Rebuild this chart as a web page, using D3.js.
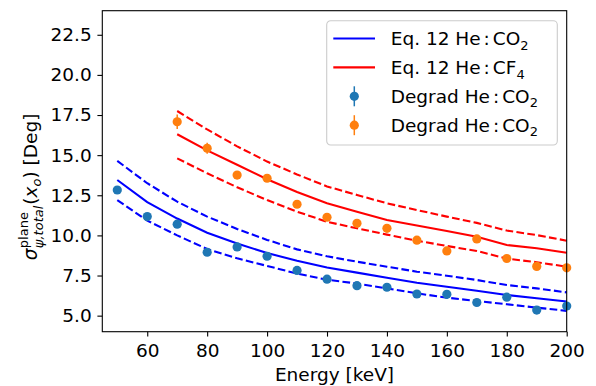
<!DOCTYPE html>
<html>
<head>
<meta charset="utf-8">
<script src="https://cdn.jsdelivr.net/npm/d3@7/dist/d3.min.js"></script>
<style>
  body { margin: 0; background: #fff; }
  svg { display: block; font-family: "DejaVu Sans", sans-serif; }
</style>
</head>
<body>
<div id="chart"></div>
<script>
// Energies (keV) for each gas
var energyCO2 = [50, 60, 70, 80, 90, 100, 110, 120, 130, 140, 150, 160, 170, 180, 190, 200];
var energyCF4 = [70, 80, 90, 100, 110, 120, 130, 140, 150, 160, 170, 180, 190, 200];

// Eq. 12 He:CO2 curve and its band
var eqCO2 = [13.45, 12.07, 11.05, 10.17, 9.5, 8.9, 8.42, 8.0, 7.68, 7.36, 7.05, 6.8, 6.55, 6.29, 6.08, 5.88];
var eqCO2Upper = [14.64, 13.25, 12.1, 11.17, 10.4, 9.72, 9.13, 8.7, 8.36, 8.05, 7.74, 7.49, 7.22, 6.91, 6.7, 6.45];
var eqCO2Lower = [12.2, 10.92, 10.0, 9.15, 8.57, 8.1, 7.62, 7.24, 7.0, 6.7, 6.39, 6.12, 5.91, 5.71, 5.5, 5.3];

// Eq. 12 He:CF4 curve and its band
var eqCF4 = [16.3, 15.3, 14.4, 13.5, 12.7, 12.0, 11.48, 10.96, 10.62, 10.27, 9.92, 9.4, 9.2, 8.92];
var eqCF4Upper = [17.75, 16.6, 15.55, 14.6, 13.8, 13.05, 12.52, 12.0, 11.58, 11.17, 10.78, 10.3, 10.02, 9.67];
var eqCF4Lower = [14.8, 13.87, 13.0, 12.2, 11.48, 10.85, 10.44, 10.05, 9.67, 9.34, 9.03, 8.55, 8.33, 8.05];

// Degrad simulation points
var degradCO2 = [12.83, 11.17, 10.7, 8.95, 9.28, 8.7, 7.82, 7.27, 6.87, 6.77, 6.35, 6.33, 5.82, 6.15, 5.35, 5.6];
var degradCO2Err = [0.15, 0.15, 0.15, 0.12, 0.12, 0.12, 0.12, 0.1, 0.1, 0.1, 0.1, 0.1, 0.1, 0.1, 0.1, 0.1];
var degradCF4 = [17.08, 15.43, 13.76, 13.56, 11.94, 11.13, 10.75, 10.44, 9.7, 9.03, 9.78, 8.56, 8.07, 7.98];
var degradCF4Err = [0.45, 0.35, 0.25, 0.2, 0.2, 0.15, 0.15, 0.15, 0.15, 0.12, 0.12, 0.12, 0.12, 0.12];

// Tick values
var xTicks = [60, 80, 100, 120, 140, 160, 180, 200];
var yTicks = [5, 7.5, 10, 12.5, 15, 17.5, 20, 22.5];

// Legend text
var legendPrefixes = ["Eq. 12 He", "Eq. 12 He", "Degrad He", "Degrad He"];
var legendGases = ["CO", "CF", "CO", "CO"];
var legendSubs = ["2", "4", "2", "2"];

var svgWidth = 596;
var svgHeight = 386;

var margin = { top: 10.7, right: 29.3, bottom: 54.3, left: 102.3 };
var chartWidth = svgWidth - margin.left - margin.right;
var chartHeight = svgHeight - margin.top - margin.bottom;

var fontSize = 18.5;
var smallSize = 13;

var svg = d3.select("#chart")
  .append("svg")
  .attr("width", svgWidth)
  .attr("height", svgHeight);

var chartGroup = svg.append("g")
  .attr("transform", `translate(${margin.left}, ${margin.top})`);

var xScale = d3.scaleLinear().domain([45, 200]).range([0, chartWidth]);
var yScale = d3.scaleLinear().domain([4, 24]).range([chartHeight, 0]);

// Axes
var xAxis = chartGroup.append("g")
  .attr("transform", `translate(0, ${chartHeight})`)
  .call(d3.axisBottom(xScale).tickValues(xTicks).tickSize(4.9).tickPadding(7).tickFormat(d3.format("d")));

var yAxis = chartGroup.append("g")
  .call(d3.axisLeft(yScale).tickValues(yTicks).tickSize(4.9).tickPadding(5.7).tickFormat(d3.format(".1f")));

[xAxis, yAxis].forEach(function(ax) {
  ax.select(".domain").remove();
  ax.selectAll(".tick line").attr("stroke", "#000").attr("stroke-width", 1.1);
  ax.selectAll(".tick text")
    .attr("fill", "#000")
    .style("font-family", "DejaVu Sans")
    .style("font-size", fontSize + "px");
});

// Curves
var line = d3.line()
  .x(d => xScale(d[0]))
  .y(d => yScale(d[1]));

function drawCurve(xs, ys, color, dashed) {
  chartGroup.append("path")
    .datum(d3.zip(xs, ys))
    .attr("fill", "none")
    .attr("stroke", color)
    .attr("stroke-width", 2.1)
    .attr("stroke-dasharray", dashed ? "7.7,3.3" : null)
    .attr("d", line);
}

drawCurve(energyCO2, eqCO2, "#0000ff", false);
drawCurve(energyCO2, eqCO2Upper, "#0000ff", true);
drawCurve(energyCO2, eqCO2Lower, "#0000ff", true);
drawCurve(energyCF4, eqCF4, "#ff0000", false);
drawCurve(energyCF4, eqCF4Upper, "#ff0000", true);
drawCurve(energyCF4, eqCF4Lower, "#ff0000", true);

// Points with error bars
function drawPoints(xs, ys, errs, color) {
  var data = d3.zip(xs, ys, errs);
  var g = chartGroup.append("g");
  g.selectAll("line")
    .data(data)
    .enter()
    .append("line")
    .attr("x1", d => xScale(d[0]))
    .attr("x2", d => xScale(d[0]))
    .attr("y1", d => yScale(d[1] - d[2]))
    .attr("y2", d => yScale(d[1] + d[2]))
    .attr("stroke", color)
    .attr("stroke-width", 1.5);
  g.selectAll("circle")
    .data(data)
    .enter()
    .append("circle")
    .attr("cx", d => xScale(d[0]))
    .attr("cy", d => yScale(d[1]))
    .attr("r", 4.6)
    .attr("fill", color);
}

drawPoints(energyCO2, degradCO2, degradCO2Err, "#1f77b4");
drawPoints(energyCF4, degradCF4, degradCF4Err, "#ff7f0e");

// Frame
chartGroup.append("rect")
  .attr("width", chartWidth)
  .attr("height", chartHeight)
  .attr("fill", "none")
  .attr("stroke", "#000")
  .attr("stroke-width", 1.1);

// x label
svg.append("text")
  .attr("x", margin.left + chartWidth / 2)
  .attr("y", 381)
  .attr("text-anchor", "middle")
  .style("font-size", fontSize + "px")
  .text("Energy [keV]");

// y label (math-style, built piece by piece then rotated)
var yLabel = svg.append("g");
var yLabelInner = yLabel.append("g");
var cursor = 0;
function addPiece(str, size, shift, italic, advance) {
  var t = yLabelInner.append("text")
    .attr("x", cursor)
    .attr("y", shift)
    .style("font-size", size + "px")
    .style("font-style", italic ? "italic" : "normal")
    .text(str);
  var w = t.node().getComputedTextLength();
  if (advance) cursor += w;
  return w;
}
addPiece("\u03c3", fontSize, 0, true, true);
cursor += 0.5;
var wSup = addPiece("plane", smallSize, -9, false, false);
var wSub = addPiece("\u03c8,total", smallSize, 6, true, false);
cursor += Math.max(wSup, wSub) + 1;
addPiece("(", fontSize, 0, false, true);
addPiece("x", fontSize, 0, true, true);
addPiece("o", smallSize, 4, true, true);
addPiece(")", fontSize, 0, false, true);
cursor += fontSize * 0.318;
addPiece("[Deg]", fontSize, 0, false, true);
yLabel.attr("transform", `translate(37, ${187 + cursor / 2}) rotate(-90)`);

// Legend
var legend = svg.append("g").attr("transform", "translate(326.7, 20.7)");
legend.append("rect")
  .attr("width", 230.6)
  .attr("height", 124.3)
  .attr("rx", 4)
  .attr("fill", "#fff")
  .attr("fill-opacity", 0.8)
  .attr("stroke", "#cccccc")
  .attr("stroke-width", 1.1);

var legendColors = ["#0000ff", "#ff0000", "#1f77b4", "#ff7f0e"];
legendPrefixes.forEach(function(prefix, i) {
  var rowY = 17.8 + i * 28.9;
  if (i < 2) {
    legend.append("line")
      .attr("x1", 6.6).attr("x2", 48.3)
      .attr("y1", rowY).attr("y2", rowY)
      .attr("stroke", legendColors[i])
      .attr("stroke-width", 2.1);
  } else {
    legend.append("line")
      .attr("x1", 27.6).attr("x2", 27.6)
      .attr("y1", rowY - 10).attr("y2", rowY + 10)
      .attr("stroke", legendColors[i])
      .attr("stroke-width", 1.5);
    legend.append("circle")
      .attr("cx", 27.6).attr("cy", rowY)
      .attr("r", 4.6)
      .attr("fill", legendColors[i]);
  }
  var t = legend.append("text")
    .attr("x", 64)
    .attr("y", rowY + 6.7)
    .style("font-size", fontSize + "px");
  t.append("tspan").text(prefix);
  t.append("tspan").attr("dx", 3).text(":");
  t.append("tspan").attr("dx", 3).text(legendGases[i]);
  t.append("tspan").attr("dy", 4.5).style("font-size", smallSize + "px").text(legendSubs[i]);
});
</script>
</body>
</html>
